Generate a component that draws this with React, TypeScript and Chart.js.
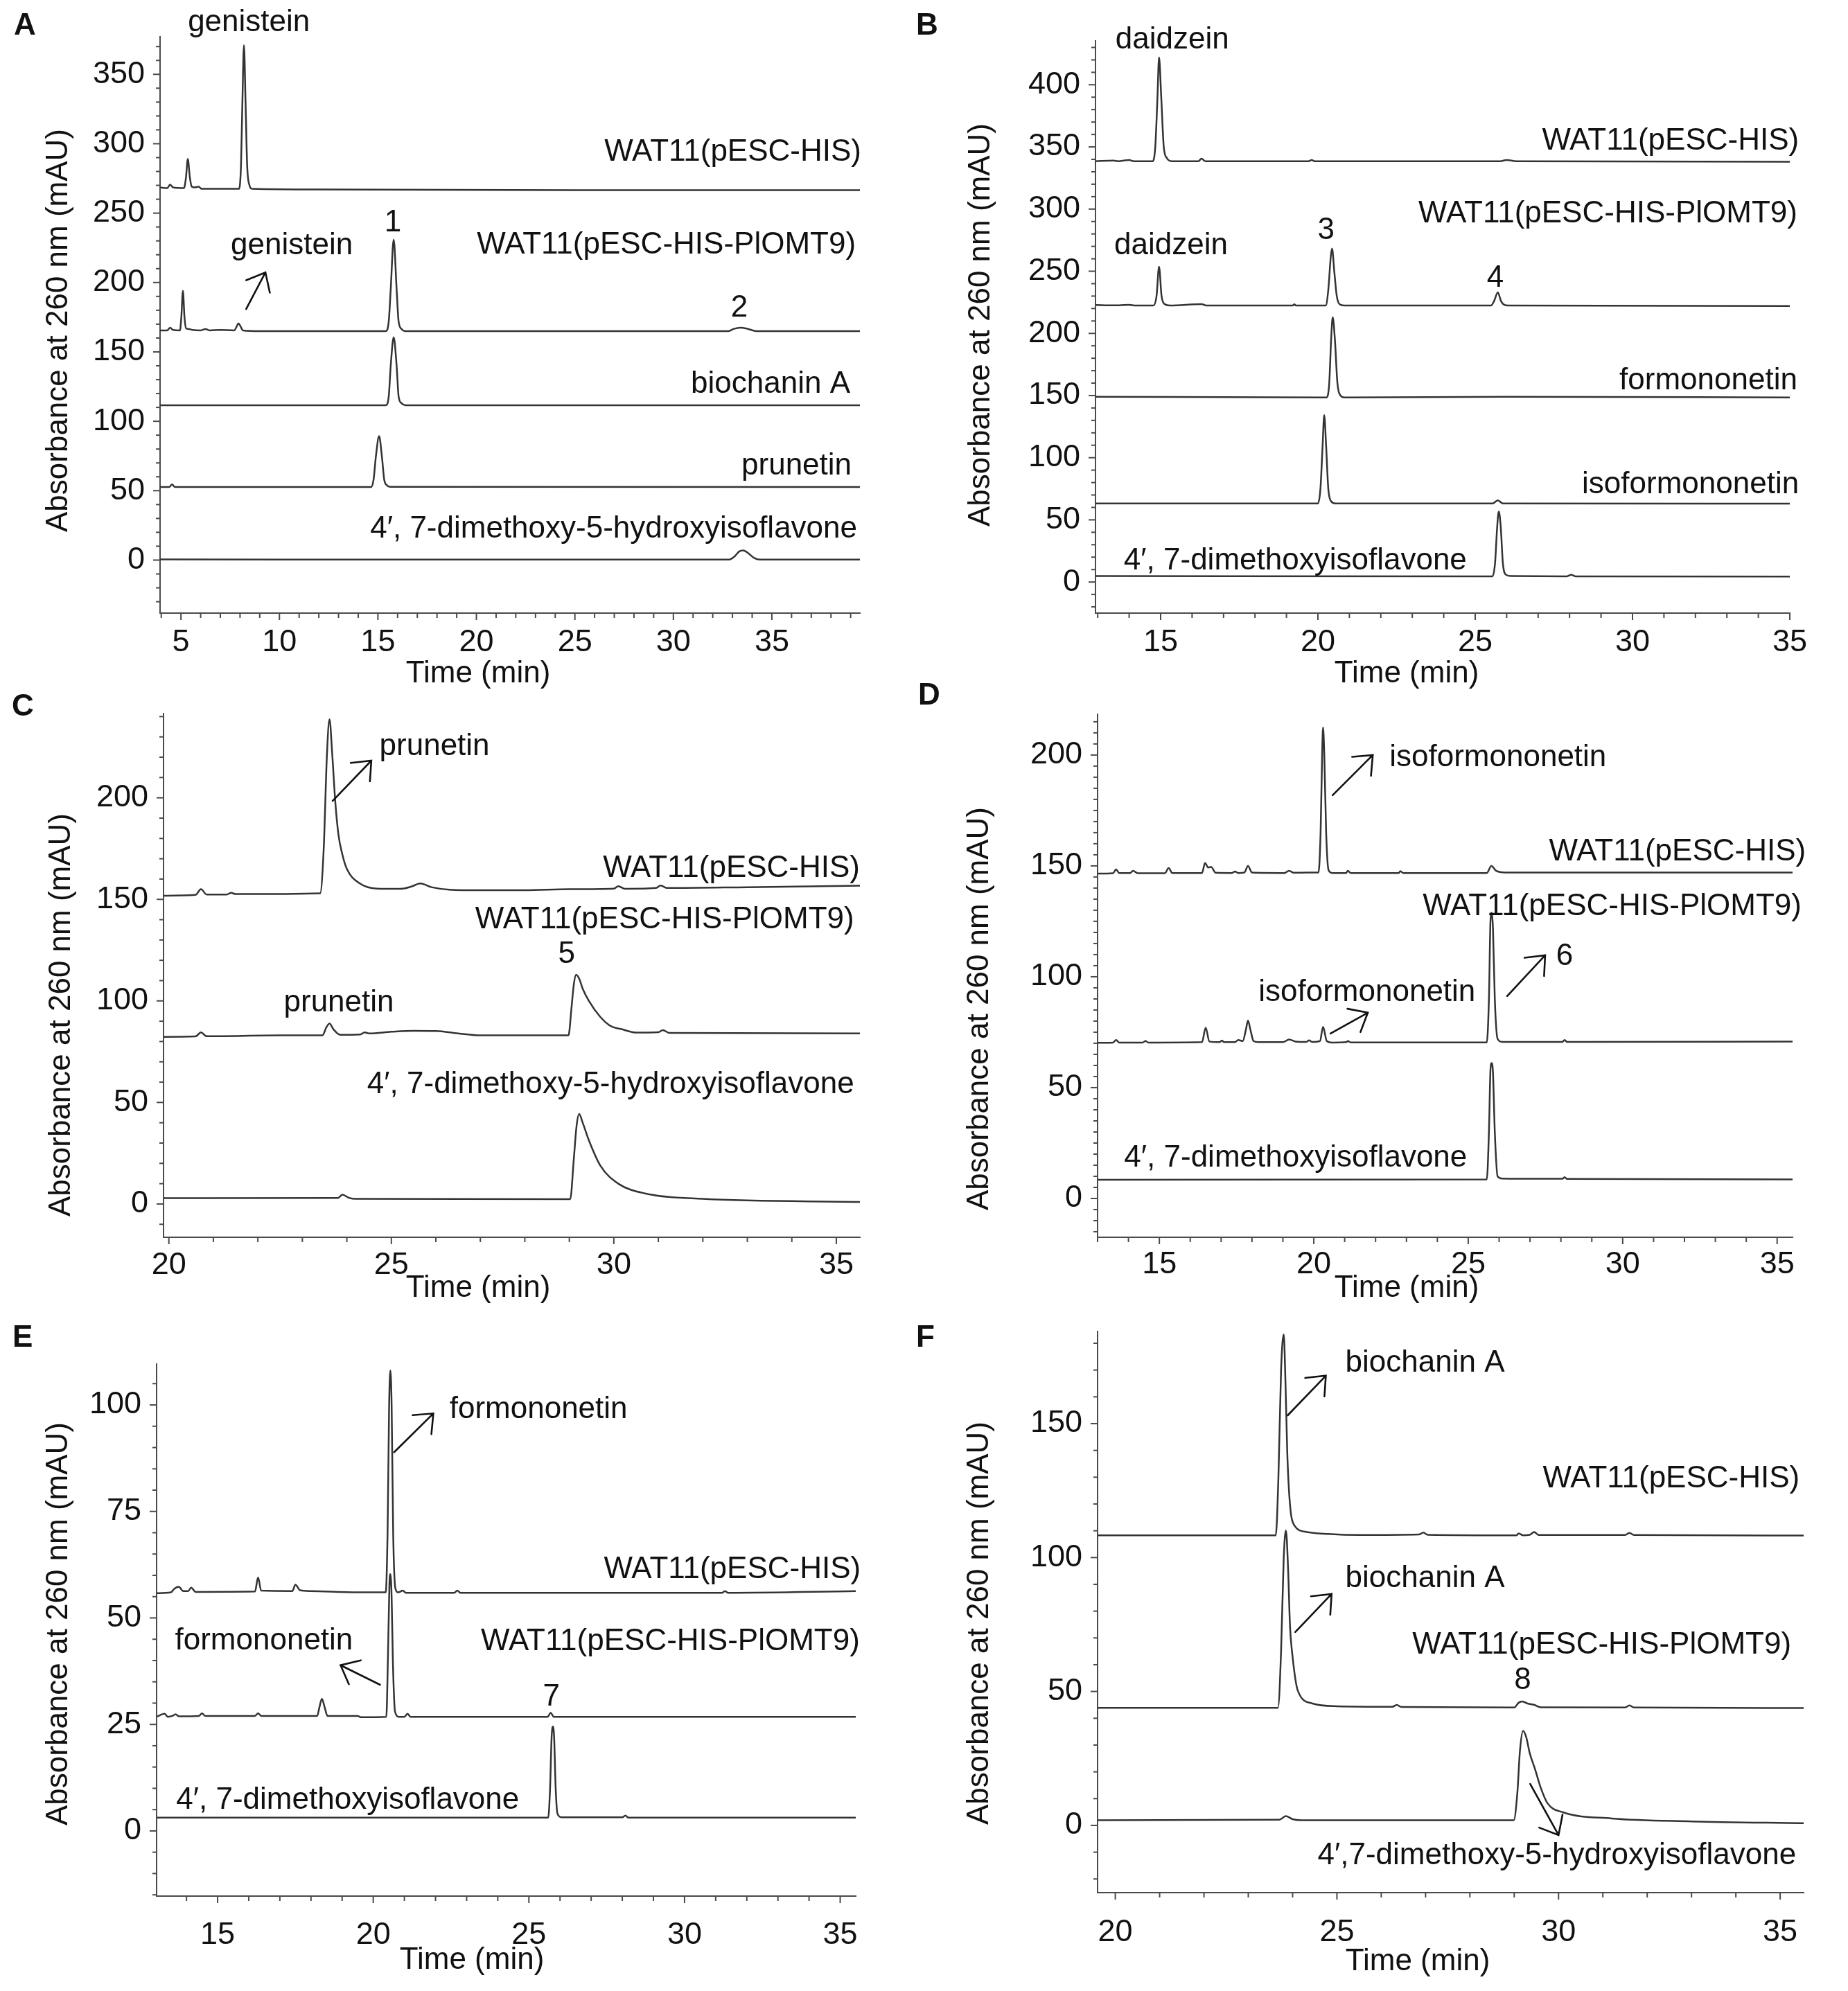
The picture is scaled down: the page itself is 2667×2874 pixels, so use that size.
import { useEffect, useRef } from 'react';
import { Chart, registerables } from 'chart.js';

Chart.register(...registerables);

type Pt = [number, number];

// ---------- panel A : genistein ----------
const traceA_control: Pt[] = [[3.94,268.5],[4.3,268],[4.45,270.5],[4.6,268.5],[5.15,268],[5.25,275],[5.35,289],[5.45,276],[5.55,269],[5.7,268.5],[5.9,269],[6.05,267.5],[7.0,267.5],[7.95,267.5],[8.05,285],[8.12,330],[8.2,371],[8.28,330],[8.36,285],[8.48,270],[8.6,267.5],[12,267],[25,266.5],[39.47,266.5]];
const traceA_omt9: Pt[] = [[3.94,165.5],[4.3,165.5],[4.45,167.5],[4.6,165.8],[4.95,165.5],[5.02,175],[5.1,194],[5.18,175],[5.26,167],[5.4,166.5],[5.6,165.8],[6.0,165.5],[6.25,166.5],[6.45,165.5],[7.0,165.8],[7.7,165.5],[7.82,168],[7.92,170.6],[8.02,168.5],[8.15,165.5],[9.0,165],[15.4,165],[15.55,172],[15.65,195],[15.8,231],[15.95,195],[16.05,172],[16.2,166.5],[16.4,165],[32.8,165],[33.05,166.5],[33.4,167.5],[33.8,166.5],[34.2,165],[39.47,165]];
const traceA_biochanin: Pt[] = [[3.94,111.6],[15.4,111.6],[15.55,118],[15.65,140],[15.8,160.6],[15.95,140],[16.05,118],[16.2,113],[16.4,111.6],[39.47,111.6]];
const traceA_prunetin: Pt[] = [[3.94,52.6],[4.4,52.6],[4.55,54.5],[4.7,52.6],[14.65,52.6],[14.78,58],[14.9,75],[15.06,89.3],[15.2,75],[15.32,58],[15.45,54],[15.65,52.8],[39.47,52.6]];
const traceA_dmhi: Pt[] = [[3.94,0.5],[20,0.3],[32.8,0.3],[33.1,2.5],[33.35,6.3],[33.55,7],[33.8,5],[34.1,1.5],[34.4,0.3],[39.47,0.3]];

// ---------- panel B : daidzein ----------
const traceB_control: Pt[] = [[12.93,338.5],[13.5,339],[13.65,338.5],[14.0,339.5],[14.15,338.5],[14.75,338.5],[14.83,350],[14.9,390],[14.95,422],[15.02,390],[15.1,350],[15.2,341],[15.35,338.5],[16.2,338.5],[16.3,340.5],[16.42,338.5],[19.7,338.5],[19.8,339.5],[19.9,338.5],[25.8,338.5],[26.0,339.5],[26.3,338.5],[35,338]];
const traceB_omt9: Pt[] = [[12.93,222.8],[13.5,222.5],[14.0,223],[14.2,222.4],[14.77,222.4],[14.87,230],[14.95,253.6],[15.03,230],[15.13,223.5],[15.3,222.4],[16.3,223.6],[16.45,222.4],[19.2,222.4],[19.25,223.4],[19.3,222.4],[20.25,222.4],[20.33,235],[20.41,262],[20.45,268.2],[20.52,250],[20.6,230],[20.72,223],[20.85,222.4],[25.5,222.4],[25.6,226],[25.72,233],[25.82,226],[25.92,223],[26.05,222.4],[35,222]];
const traceB_formononetin: Pt[] = [[12.93,149],[20.28,148.5],[20.36,160],[20.42,195],[20.47,213],[20.54,195],[20.62,160],[20.72,150],[20.85,148.5],[26,149],[35,148.5]];
const traceB_isoformononetin: Pt[] = [[12.93,63.2],[20.0,63.2],[20.08,75],[20.15,110],[20.2,134.3],[20.26,110],[20.33,75],[20.42,65],[20.55,63.2],[25.55,63.2],[25.72,65.7],[25.88,63.2],[35,63]];
const traceB_dmi: Pt[] = [[12.93,4.8],[25.55,4.6],[25.63,15],[25.7,45],[25.75,56.8],[25.81,45],[25.88,15],[25.97,6],[26.15,4.8],[27.9,4.6],[28.05,5.8],[28.2,4.6],[35,4.4]];

// ---------- panel C : prunetin ----------
const traceC_control: Pt[] = [[19.88,151.8],[20.6,152.2],[20.72,155],[20.85,152.4],[21.3,152.4],[21.4,153.2],[21.5,152.6],[23.4,153],[23.48,175],[23.55,220],[23.61,238.7],[23.67,222],[23.74,198],[23.81,182],[23.9,172],[24.0,165],[24.28,158],[24.68,155.3],[25.2,155.2],[25.45,156.3],[25.65,157.8],[25.9,156],[26.3,154.8],[27,154.5],[28,154.5],[29,155],[30.0,155.3],[30.1,156.5],[30.25,155.2],[30.95,155.6],[31.05,156.8],[31.2,155.6],[33,156],[35.53,156.7]];
const traceC_omt9: Pt[] = [[19.88,82.3],[20.6,82.5],[20.72,84.5],[20.85,82.6],[22.5,83],[23.45,83],[23.54,87],[23.61,88.8],[23.7,86],[23.85,83.3],[24.3,83.5],[24.4,84.5],[24.5,84],[25,84.8],[25.5,85.3],[26,85.2],[26.5,84],[27,83],[28.98,83],[29.05,97],[29.1,108],[29.15,112.9],[29.22,111],[29.3,106],[29.44,100],[29.7,92],[29.9,88],[30.04,86.7],[30.15,86.2],[30.5,84.4],[31.0,84.6],[31.1,85.6],[31.25,84.2],[35.53,84]];
const traceC_dmhi: Pt[] = [[19.88,2.9],[23.8,3],[23.9,4.6],[24.05,3],[24.2,2.5],[29.02,2.4],[29.1,22],[29.16,38],[29.22,44.3],[29.3,40],[29.44,31.3],[29.7,18.8],[30.1,10],[30.7,5.2],[32,2.5],[35.53,1]];

// ---------- panel D : isoformononetin ----------
const traceD_control: Pt[] = [[13,146.5],[13.5,146.7],[13.6,148.4],[13.7,146.8],[14.05,146.8],[14.15,147.8],[14.3,146.7],[15.18,146.7],[15.3,149],[15.42,146.8],[16.38,146.8],[16.48,151.3],[16.58,149.3],[16.68,149.5],[16.82,146.9],[17.35,146.8],[17.45,147.5],[17.55,146.8],[17.75,147],[17.87,150],[18.0,147],[19.05,146.8],[19.2,147.8],[19.35,146.9],[19.8,147],[20.15,147],[20.22,165],[20.27,200],[20.3,212.5],[20.34,200],[20.4,165],[20.48,148],[20.6,146.8],[21.05,146.8],[21.1,147.8],[21.2,146.8],[22.75,146.8],[22.8,147.6],[22.9,146.8],[25.6,146.8],[25.75,150],[25.9,147.8],[26.2,147],[35.5,147]];
const traceD_omt9: Pt[] = [[13,70.2],[13.5,70.3],[13.6,71.5],[13.7,70.3],[14.45,70.3],[14.55,71],[14.65,70.3],[16.38,70.5],[16.5,77],[16.62,70.8],[16.95,70.5],[17.02,71.2],[17.1,70.5],[17.45,70.5],[17.55,71.5],[17.7,71],[17.8,76],[17.87,80.2],[17.95,76],[18.05,71],[18.2,70.5],[19.0,70.5],[19.2,71.7],[19.4,70.8],[19.75,70.6],[19.85,71.3],[19.95,70.6],[20.2,71],[20.3,77.4],[20.42,71],[20.6,70.3],[21.05,70.5],[21.1,71],[21.2,70.4],[25.6,70.4],[25.67,90],[25.72,125],[25.76,128.9],[25.8,122],[25.86,90],[25.95,72],[26.1,70.6],[28.05,70.6],[28.12,71.5],[28.2,70.6],[35.5,70.8]];
const traceD_dmi: Pt[] = [[13,8.4],[25.6,8.6],[25.67,30],[25.72,58],[25.76,61.1],[25.8,57],[25.86,30],[25.95,10],[26.1,9],[27.3,8.9],[28.05,8.9],[28.12,9.6],[28.2,8.8],[35.5,8.6]];

// ---------- panel E : formononetin ----------
const traceE_control: Pt[] = [[13.04,55.8],[13.5,56],[13.6,56.8],[13.75,57.3],[13.9,56.3],[14.05,56.3],[14.15,57.1],[14.3,56.1],[16.2,56.2],[16.3,59.5],[16.4,56.4],[17.4,56.3],[17.5,57.8],[17.65,56.5],[18,56.3],[19.5,56],[20.4,56],[20.46,70],[20.51,100],[20.55,108.1],[20.59,100],[20.64,70],[20.71,57],[20.8,56],[20.95,56.4],[21.05,55.9],[22.6,55.9],[22.7,56.4],[22.8,55.9],[31.2,55.9],[31.3,56.3],[31.4,55.9],[35.5,56.3]];
const traceE_omt9: Pt[] = [[13.04,26.8],[13.3,27.5],[13.4,26.8],[13.55,27],[13.65,27.4],[13.75,26.9],[14.4,27],[14.5,27.6],[14.6,27],[16.2,27],[16.3,27.6],[16.4,27],[18.2,27],[18.27,29],[18.35,31],[18.44,29],[18.53,27],[19.5,27],[19.6,26.7],[20.42,26.8],[20.47,40],[20.52,58],[20.55,60.3],[20.59,55],[20.63,40],[20.7,28],[20.82,26.8],[21.0,26.8],[21.1,27.5],[21.2,26.8],[25.6,26.8],[25.7,27.7],[25.8,26.8],[35.5,26.8]];
const traceE_dmi: Pt[] = [[13.04,3.1],[25.62,3.1],[25.68,10],[25.73,22],[25.77,24.5],[25.81,22],[25.86,10],[25.92,4],[26.05,3.2],[28.0,3.2],[28.1,3.6],[28.2,3.1],[35.5,3.1]];

// ---------- panel F : biochanin A ----------
const traceF_control: Pt[] = [[19.6,108.3],[23.62,108.3],[23.68,130],[23.74,170],[23.8,183.3],[23.84,165],[23.88,139],[23.94,120],[24.04,112],[24.3,109.6],[24.8,108.8],[25.5,108.4],[26.85,108.6],[26.95,109.3],[27.05,108.5],[29.05,108.3],[29.1,109],[29.2,108.3],[29.35,108.5],[29.45,109.5],[29.55,108.4],[31.5,108.4],[31.6,109.2],[31.7,108.4],[35.53,108.2]];
const traceF_omt9: Pt[] = [[19.6,43.9],[23.67,43.9],[23.74,65],[23.8,100],[23.85,110.1],[23.9,95],[23.94,75],[24.0,62.9],[24.12,50.2],[24.45,45.5],[25,44.5],[26.25,44.3],[26.35,45],[26.45,44.2],[29.0,44],[29.1,45.8],[29.18,46.3],[29.3,45.5],[29.45,45],[29.6,44.1],[31.5,44],[31.6,44.8],[31.7,44],[35.53,43.8]];
const traceF_dmhi: Pt[] = [[19.6,1.9],[23.7,2.1],[23.85,3.5],[24.0,2.3],[24.2,1.9],[28.99,1.9],[29.07,12],[29.13,28],[29.2,35.3],[29.27,33],[29.35,27],[29.47,21],[29.6,14],[29.75,8.3],[30.1,4.9],[31.2,2.6],[33,1.5],[35.53,0.8]];

// ---------- text labels (time, absorbance) ----------
interface Label { text: string; t: number; v: number; align: CanvasTextAlign }
interface Arrow { from: Pt; to: Pt }

const CTRL = 'WAT11(pESC-HIS)';
const OMT9 = 'WAT11(pESC-HIS-PlOMT9)';
const DMHI = '4\u2032, 7-dimethoxy-5-hydroxyisoflavone';
const DMI = '4\u2032, 7-dimethoxyisoflavone';

const labelsA: Label[] = [
  { text: 'genistein', t: 8.45, v: 387, align: 'center' },
  { text: CTRL, t: 39.54, v: 293.7, align: 'right' },
  { text: OMT9, t: 39.26, v: 226.8, align: 'right' },
  { text: '1', t: 15.76, v: 242.8, align: 'center' },
  { text: 'genistein', t: 10.63, v: 226.3, align: 'center' },
  { text: '2', t: 33.35, v: 181.6, align: 'center' },
  { text: 'biochanin A', t: 38.98, v: 126.5, align: 'right' },
  { text: 'prunetin', t: 39.05, v: 67.6, align: 'right' },
  { text: DMHI, t: 39.33, v: 22.2, align: 'right' },
];
const arrowsA: Arrow[] = [{ from: [8.31, 180.9], to: [9.29, 207.3] }];

const labelsB: Label[] = [
  { text: 'daidzein', t: 15.37, v: 436.2, align: 'center' },
  { text: CTRL, t: 35.29, v: 354.6, align: 'right' },
  { text: OMT9, t: 35.24, v: 296.1, align: 'right' },
  { text: '3', t: 20.26, v: 282.8, align: 'center' },
  { text: 'daidzein', t: 15.33, v: 270.5, align: 'center' },
  { text: '4', t: 25.64, v: 244.2, align: 'center' },
  { text: 'formononetin', t: 35.24, v: 161.8, align: 'right' },
  { text: 'isoformononetin', t: 35.29, v: 78.3, align: 'right' },
  { text: DMI, t: 13.83, v: 17, align: 'left' },
];
const arrowsB: Arrow[] = [];

const labelsC: Label[] = [
  { text: 'prunetin', t: 25.97, v: 225.2, align: 'center' },
  { text: CTRL, t: 35.53, v: 165.1, align: 'right' },
  { text: OMT9, t: 35.4, v: 139.8, align: 'right' },
  { text: '5', t: 28.94, v: 122.8, align: 'center' },
  { text: 'prunetin', t: 23.82, v: 98.9, align: 'center' },
  { text: DMHI, t: 35.4, v: 58.6, align: 'right' },
];
const arrowsC: Arrow[] = [{ from: [23.68, 198.5], to: [24.55, 218.3] }];

const labelsD: Label[] = [
  { text: 'isoformononetin', t: 22.45, v: 198.9, align: 'left' },
  { text: CTRL, t: 35.93, v: 156.3, align: 'right' },
  { text: OMT9, t: 35.79, v: 131.6, align: 'right' },
  { text: 'isoformononetin', t: 18.21, v: 92.8, align: 'left' },
  { text: '6', t: 28.12, v: 109, align: 'center' },
  { text: DMI, t: 13.86, v: 18.3, align: 'left' },
];
const arrowsD: Arrow[] = [
  { from: [20.61, 181.9], to: [21.91, 200] },
  { from: [20.54, 74.4], to: [21.75, 83.8] },
  { from: [26.26, 91.3], to: [27.49, 109.7] },
];

const labelsE: Label[] = [
  { text: 'formononetin', t: 22.45, v: 98.9, align: 'left' },
  { text: CTRL, t: 35.66, v: 61.3, align: 'right' },
  { text: OMT9, t: 35.63, v: 44.4, align: 'right' },
  { text: 'formononetin', t: 13.63, v: 44.6, align: 'left' },
  { text: '7', t: 25.72, v: 31.4, align: 'center' },
  { text: DMI, t: 13.67, v: 7.2, align: 'left' },
];
const arrowsE: Arrow[] = [
  { from: [20.67, 88.9], to: [21.93, 98] },
  { from: [20.22, 34.3], to: [18.95, 38.9] },
];

const labelsF: Label[] = [
  { text: 'biochanin A', t: 25.19, v: 172.5, align: 'left' },
  { text: CTRL, t: 35.44, v: 129.3, align: 'right' },
  { text: 'biochanin A', t: 25.19, v: 92.1, align: 'left' },
  { text: OMT9, t: 35.25, v: 67.3, align: 'right' },
  { text: '8', t: 29.19, v: 54.1, align: 'center' },
  { text: '4\u2032,7-dimethoxy-5-hydroxyisoflavone', t: 35.36, v: -11.4, align: 'right' },
];
const arrowsF: Arrow[] = [
  { from: [23.89, 153.1], to: [24.75, 167.9] },
  { from: [24.06, 72.2], to: [24.88, 86.4] },
  { from: [29.36, 15.5], to: [30.0, -3.6] },
];

// ---------- layout ----------
const FONT = '"Liberation Sans", Arial, sans-serif';
const INK = '#111';
const TRACE = '#333';
const AXIS = '#4a4a4a';

interface Panel {
  letter: string;
  box: { left: number; top: number; w: number; h: number };
  plot: { left: number; top: number; right: number; bottom: number };
  x: Pt; y: Pt;
  yStep: number; yMajor: number;
  xTickPad: number;
  letterPos: Pt; xTitlePos: Pt; yTitlePos: Pt;
  traces: Pt[][];
  labels: Label[];
  arrows: Arrow[];
}

const panels: Panel[] = [
  {
    letter: 'A', box: { left: 0, top: 0, w: 1300, h: 1000 },
    plot: { left: 231, top: 53, right: 1241, bottom: 885 },
    x: [3.94, 39.47], y: [-38.2, 377.1], yStep: 10, yMajor: 50, xTickPad: 6,
    letterPos: [20, 50], xTitlePos: [690, 973], yTitlePos: [85, 477],
    traces: [traceA_control, traceA_omt9, traceA_biochanin, traceA_prunetin, traceA_dmhi],
    labels: labelsA, arrows: arrowsA,
  },
  {
    letter: 'B', box: { left: 1300, top: 0, w: 1367, h: 1000 },
    plot: { left: 281, top: 59, right: 1283, bottom: 885 },
    x: [12.93, 35], y: [-25, 435.3], yStep: 10, yMajor: 50, xTickPad: 6,
    letterPos: [22, 50], xTitlePos: [730, 973], yTitlePos: [116, 469],
    traces: [traceB_control, traceB_omt9, traceB_formononetin, traceB_isoformononetin, traceB_dmi],
    labels: labelsB, arrows: arrowsB,
  },
  {
    letter: 'C', box: { left: 0, top: 960, w: 1300, h: 940 },
    plot: { left: 236, top: 70, right: 1241, bottom: 826 },
    x: [19.88, 35.53], y: [-16.4, 241.5], yStep: 10, yMajor: 50, xTickPad: 4,
    letterPos: [17, 73], xTitlePos: [690, 900], yTitlePos: [89, 505],
    traces: [traceC_control, traceC_omt9, traceC_dmhi],
    labels: labelsC, arrows: arrowsC,
  },
  {
    letter: 'D', box: { left: 1300, top: 960, w: 1367, h: 940 },
    plot: { left: 284, top: 71, right: 1287, bottom: 826 },
    x: [13.0, 35.5], y: [-17.5, 218.4], yStep: 5, yMajor: 50, xTickPad: 3,
    letterPos: [25, 57], xTitlePos: [730, 900], yTitlePos: [114, 496],
    traces: [traceD_control, traceD_omt9, traceD_dmi],
    labels: labelsD, arrows: arrowsD,
  },
  {
    letter: 'E', box: { left: 0, top: 1900, w: 1300, h: 974 },
    plot: { left: 226, top: 69, right: 1235, bottom: 837 },
    x: [13.04, 35.5], y: [-15.3, 109.6], yStep: 5, yMajor: 25, xTickPad: 20,
    letterPos: [18, 44], xTitlePos: [681, 930], yTitlePos: [85, 444],
    traces: [traceE_control, traceE_omt9, traceE_dmi],
    labels: labelsE, arrows: arrowsE,
  },
  {
    letter: 'F', box: { left: 1300, top: 1900, w: 1367, h: 974 },
    plot: { left: 284, top: 22, right: 1303, bottom: 832 },
    x: [19.6, 35.53], y: [-25.1, 184.4], yStep: 10, yMajor: 50, xTickPad: 21,
    letterPos: [22, 44], xTitlePos: [746, 932], yTitlePos: [114, 443],
    traces: [traceF_control, traceF_omt9, traceF_dmhi],
    labels: labelsF, arrows: arrowsF,
  },
];

const isMult = (v: number, s: number) => Math.abs(v / s - Math.round(v / s)) < 1e-6;

function makeOverlay(p: Panel) {
  return {
    id: 'overlay' + p.letter,
    afterDraw(chart: Chart) {
      const { ctx, chartArea: ca } = chart;
      const sx = chart.scales.x;
      const sy = chart.scales.y;
      const inY = (v: number) => v >= p.y[0] - 1e-9 && v <= p.y[1] + 1e-9;
      const inX = (v: number) => v >= p.x[0] - 1e-9 && v <= p.x[1] + 1e-9;
      ctx.save();

      // tick marks, pointing outwards
      ctx.strokeStyle = AXIS;
      ctx.lineWidth = 2;
      sy.ticks.forEach((tk) => {
        if (!isMult(tk.value, p.yStep) || !inY(tk.value)) return;
        const y = sy.getPixelForValue(tk.value);
        const len = isMult(tk.value, p.yMajor) ? 10 : 6;
        ctx.beginPath();
        ctx.moveTo(ca.left, y);
        ctx.lineTo(ca.left - len, y);
        ctx.stroke();
      });
      sx.ticks.forEach((tk) => {
        if (!isMult(tk.value, 1) || !inX(tk.value)) return;
        const x = sx.getPixelForValue(tk.value);
        const len = isMult(tk.value, 5) ? 10 : 7;
        ctx.beginPath();
        ctx.moveTo(x, ca.bottom);
        ctx.lineTo(x, ca.bottom + len);
        ctx.stroke();
      });

      // peak / trace labels
      ctx.fillStyle = INK;
      ctx.font = `44px ${FONT}`;
      ctx.textBaseline = 'middle';
      p.labels.forEach((l) => {
        ctx.textAlign = l.align;
        ctx.fillText(l.text, sx.getPixelForValue(l.t), sy.getPixelForValue(l.v));
      });

      // open arrows
      ctx.strokeStyle = INK;
      ctx.lineWidth = 2.6;
      ctx.lineCap = 'round';
      p.arrows.forEach((a) => {
        const x0 = sx.getPixelForValue(a.from[0]);
        const y0 = sy.getPixelForValue(a.from[1]);
        const x1 = sx.getPixelForValue(a.to[0]);
        const y1 = sy.getPixelForValue(a.to[1]);
        const ang = Math.atan2(y1 - y0, x1 - x0);
        const head = 30;
        const spread = (40 * Math.PI) / 180;
        ctx.beginPath();
        ctx.moveTo(x0, y0);
        ctx.lineTo(x1, y1);
        ctx.moveTo(x1 - head * Math.cos(ang - spread), y1 - head * Math.sin(ang - spread));
        ctx.lineTo(x1, y1);
        ctx.lineTo(x1 - head * Math.cos(ang + spread), y1 - head * Math.sin(ang + spread));
        ctx.stroke();
      });

      // axis titles
      ctx.textAlign = 'center';
      ctx.fillText('Time (min)', p.xTitlePos[0], p.xTitlePos[1]);
      ctx.save();
      ctx.translate(p.yTitlePos[0], p.yTitlePos[1]);
      ctx.rotate(-Math.PI / 2);
      ctx.fillText('Absorbance at 260 nm (mAU)', 0, 0);
      ctx.restore();

      // panel letter
      ctx.font = `bold 44px ${FONT}`;
      ctx.textAlign = 'left';
      ctx.textBaseline = 'alphabetic';
      ctx.fillText(p.letter, p.letterPos[0], p.letterPos[1]);
      ctx.restore();
    },
  };
}

function ChromPanel({ panel }: { panel: Panel }) {
  const canvasRef = useRef<HTMLCanvasElement>(null);

  useEffect(() => {
    if (!canvasRef.current) return;
    const p = panel;
    const tickFont = { family: FONT, size: 45 };

    const chart = new Chart(canvasRef.current, {
      type: 'line',
      data: {
        datasets: p.traces.map((tr) => ({
          data: tr.map(([t, v]) => ({ x: t, y: v })),
          borderColor: TRACE,
          borderWidth: 2.5,
          pointRadius: 0,
          fill: false,
          cubicInterpolationMode: 'monotone' as const,
        })),
      },
      options: {
        responsive: false,
        animation: false,
        devicePixelRatio: 1,
        events: [],
        layout: { padding: { left: 0, top: p.plot.top, right: p.box.w - p.plot.right, bottom: 0 } },
        plugins: { legend: { display: false }, tooltip: { enabled: false } },
        scales: {
          x: {
            type: 'linear',
            min: p.x[0],
            max: p.x[1],
            grid: { display: false, drawTicks: true, tickLength: 10 },
            border: { display: true, color: AXIS, width: 2 },
            ticks: {
              stepSize: 1,
              includeBounds: false,
              autoSkip: false,
              maxRotation: 0,
              minRotation: 0,
              padding: p.xTickPad,
              color: INK,
              font: tickFont,
              callback: (v: string | number) => (isMult(Number(v), 5) ? String(v) : ''),
            },
            afterFit: (s: any) => {
              s.height = p.box.h - p.plot.bottom;
              s.paddingLeft = 0;
              s.paddingRight = 0;
            },
          },
          y: {
            type: 'linear',
            min: p.y[0],
            max: p.y[1],
            grid: { display: false, drawTicks: true, tickLength: 10 },
            border: { display: true, color: AXIS, width: 2 },
            ticks: {
              stepSize: p.yStep,
              includeBounds: false,
              autoSkip: false,
              padding: 12,
              color: INK,
              font: tickFont,
              callback: (v: string | number) => (isMult(Number(v), p.yMajor) ? String(v) : ''),
            },
            afterFit: (s: any) => {
              s.width = p.plot.left;
              s.paddingTop = 0;
              s.paddingBottom = 0;
            },
          },
        },
      },
      plugins: [makeOverlay(p)],
    });

    return () => chart.destroy();
  }, [panel]);

  return (
    <canvas
      ref={canvasRef}
      width={panel.box.w}
      height={panel.box.h}
      style={{ position: 'absolute', left: panel.box.left, top: panel.box.top, width: panel.box.w, height: panel.box.h }}
    />
  );
}

export default function App() {
  return (
    <div style={{ position: 'absolute', left: 0, top: 0, width: 2667, height: 2874, background: '#fff', overflow: 'hidden' }}>
      {panels.map((p) => (
        <ChromPanel key={p.letter} panel={p} />
      ))}
    </div>
  );
}
